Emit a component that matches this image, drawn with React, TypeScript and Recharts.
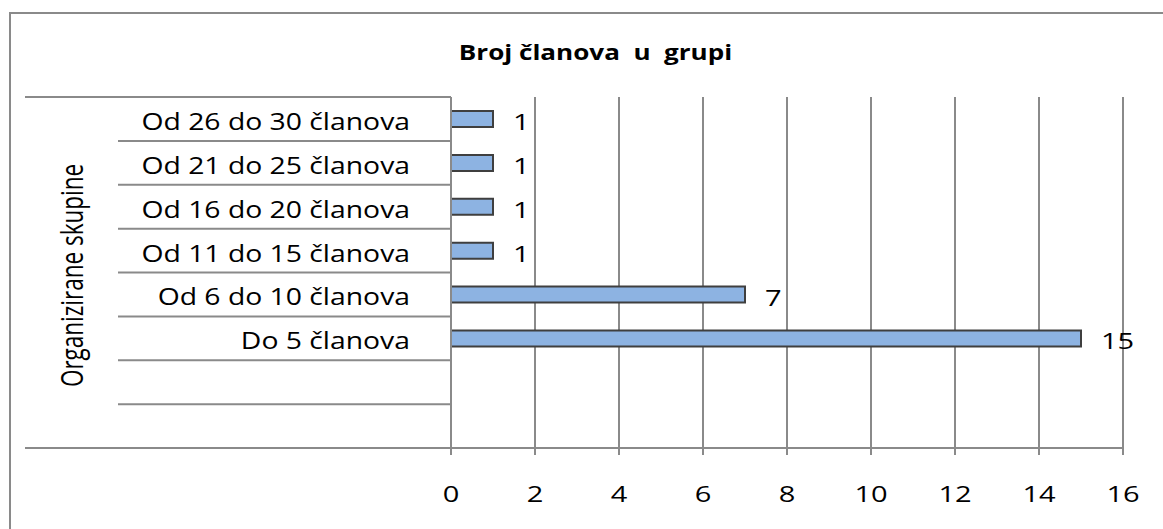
import React from 'react';
import {
  BarChart,
  Bar,
  XAxis,
  YAxis,
  CartesianGrid,
  LabelList,
} from 'recharts';

// kategorije odozgo prema dolje, zadnje dvije su prazne (kao u originalu)
const categories = [
  'Od 26 do 30 članova',
  'Od 21 do 25 članova',
  'Od 16 do 20 članova',
  'Od 11 do 15 članova',
  'Od 6 do 10 članova',
  'Do 5 članova',
  ' ',
  '  ',
];
const counts: (number | null)[] = [1, 1, 1, 1, 7, 15, null, null];
const xTicks = [0, 2, 4, 6, 8, 10, 12, 14, 16];

const data = categories.map((name, i) => ({ name, value: counts[i] }));

const FONT = '"Open Sans", sans-serif';
const GRID = '#8a8a8a';

const PLOT_TOP = 97;
const PLOT_BOTTOM = 448;
const BAND_HALF = (PLOT_BOTTOM - PLOT_TOP) / categories.length / 2;

// original je razvučen vodoravno, pa i tekst malo razvlačimo
function SText({ x, y, sx = 1.2, anchor = 'start', size = 22, children }: any) {
  return (
    <text
      transform={`translate(${x},${y}) scale(${sx},1)`}
      textAnchor={anchor}
      fontFamily={FONT}
      fontSize={size}
      fill="#000"
    >
      {children}
    </text>
  );
}

function CategoryTick(props: any) {
  const { x, y, payload, index } = props;
  const half = payload && payload.offset ? payload.offset : BAND_HALF;
  const top = y - half;
  const isLast = index === categories.length - 1;
  return (
    <g>
      <line x1={index === 0 ? 25 : 118} x2={x} y1={top} y2={top} stroke={GRID} strokeWidth={2} />
      {isLast && <line x1={25} x2={x} y1={y + half} y2={y + half} stroke={GRID} strokeWidth={2} />}
      <SText x={x - 41} y={y + 11} sx={1.18} anchor="end" size={24}>
        {payload.value.trim()}
      </SText>
    </g>
  );
}

function ValueTick(props: any) {
  const { x, y, payload } = props;
  return (
    <SText x={x} y={y + 47} sx={1.32} anchor="middle" size={22}>
      {payload.value}
    </SText>
  );
}

function BarValue(props: any) {
  const { x, y, width, height, value } = props;
  if (value == null) return null;
  return (
    <SText x={x + width + 20} y={y + height / 2 + 11} sx={1.32} size={22}>
      {value}
    </SText>
  );
}

function AxisTitle(props: any) {
  const { viewBox } = props;
  const cx = viewBox.x + 71;
  const cy = viewBox.y + viewBox.height / 2 + 3;
  return (
    <text
      transform={`translate(${cx},${cy}) rotate(-90) scale(1,1.35)`}
      textAnchor="middle"
      dominantBaseline="central"
      fontFamily={FONT}
      fontSize={22.5}
      fill="#000"
    >
      Organizirane skupine
    </text>
  );
}

export default function App() {
  return (
    <div style={{ position: 'absolute', left: 0, top: 0, width: 1163, height: 529, overflow: 'hidden', background: '#fff' }}>
      <div
        style={{
          position: 'absolute',
          left: 9,
          top: 12,
          width: 1200,
          height: 600,
          borderLeft: `2px solid ${GRID}`,
          borderTop: `2px solid ${GRID}`,
        }}
      />
      <div
        style={{
          position: 'absolute',
          left: 0,
          width: 1191,
          top: 38,
          textAlign: 'center',
          whiteSpace: 'pre',
          fontFamily: FONT,
          fontWeight: 700,
          fontSize: 21,
          lineHeight: '28px',
          color: '#000',
          transform: 'scaleX(1.24)',
          transformOrigin: 'center',
        }}
      >
        Broj članova  u  grupi
      </div>
      <div style={{ position: 'absolute', left: 0, top: 0 }}>
        <BarChart
          width={1163}
          height={529}
          data={data}
          layout="vertical"
          barSize={16}
          margin={{ top: PLOT_TOP, right: 40, bottom: 31, left: 0 }}
        >
          <CartesianGrid vertical horizontal={false} stroke={GRID} strokeWidth={2} />
          <XAxis
            type="number"
            domain={[0, 16]}
            ticks={xTicks}
            interval={0}
            height={50}
            axisLine={{ stroke: GRID, strokeWidth: 2 }}
            tickLine={{ stroke: GRID, strokeWidth: 2 }}
            tickSize={7}
            tickMargin={0}
            tick={<ValueTick />}
          />
          <YAxis
            type="category"
            dataKey="name"
            width={451}
            interval={0}
            axisLine={{ stroke: GRID, strokeWidth: 2 }}
            tickLine={false}
            tickSize={0}
            tickMargin={0}
            tick={<CategoryTick />}
            label={<AxisTitle />}
          />
          <Bar
            dataKey="value"
            fill="#8db3e2"
            stroke="#3f3f3f"
            strokeWidth={2}
            isAnimationActive={false}
          >
            <LabelList dataKey="value" content={<BarValue />} />
          </Bar>
        </BarChart>
      </div>
    </div>
  );
}
